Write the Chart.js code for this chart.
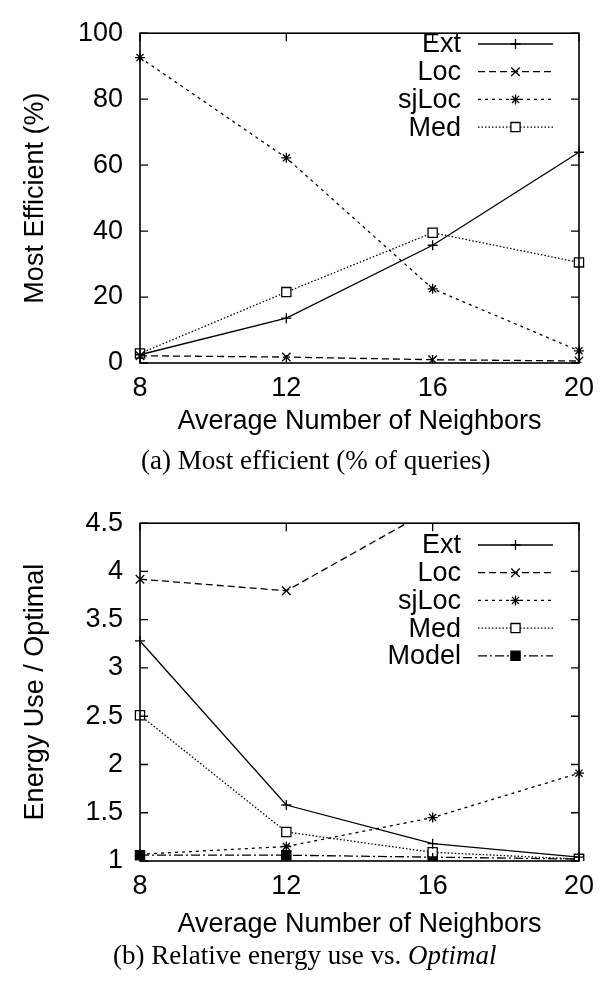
<!DOCTYPE html>
<html>
<head>
<meta charset="utf-8">
<script src="https://cdn.jsdelivr.net/npm/chart.js@4/dist/chart.umd.min.js"></script>
<style>
  body { margin: 0; background: #fff; }
  .page { position: relative; width: 603px; height: 984px; overflow: hidden; background: #fff; }
  .page canvas { position: absolute; left: 0; }
  .caption {
    position: absolute;
    font-family: "Liberation Serif", "Times New Roman", serif;
    font-size: 27px;
    line-height: 1;
    color: #000;
    white-space: nowrap;
  }
</style>
</head>
<body>
<div class="page">
  <canvas id="chartA" width="603" height="460" style="top:0"></canvas>
  <canvas id="chartB" width="603" height="494" style="top:490px"></canvas>
  <div class="caption" style="left:141px;top:447px">(a) Most efficient (% of queries)</div>
  <div class="caption" style="left:113px;top:942px">(b) Relative energy use vs. <i>Optimal</i></div>
</div>

<script>
// eixo x comum aos dois gráficos
const neighbors = ['8', '12', '16', '20'];

// (a) % de consultas em que cada estratégia foi a mais eficiente
const effExt   = [2.5, 13.6, 35.7, 63.9];
const effLoc   = [2.2, 1.8, 1.0, 0.6];
const effSjLoc = [92.6, 62.2, 22.5, 3.7];
const effMed   = [2.9, 21.5, 39.5, 30.5];

// (b) energia relativa ao Optimal (Loc sai do topo depois de 12)
const energyExt   = [3.28, 1.58, 1.18, 1.04];
const energyLoc   = [3.92, 3.80, 4.65, null];
const energySjLoc = [1.07, 1.15, 1.45, 1.91];
const energyMed   = [2.51, 1.30, 1.09, 1.02];
const energyModel = [1.06, 1.06, 1.04, 1.02];

const effTicks = [0, 20, 40, 60, 80, 100];
const energyTicks = [1, 1.5, 2, 2.5, 3, 3.5, 4, 4.5];

const SANS = '"Liberation Sans", Arial, Helvetica, sans-serif';
const FONT_SIZE = 27;

// estilos no padrão gnuplot (tudo preto, muda só o tracejado e o marcador)
const STYLES = {
  Ext:   { borderDash: [],           pointStyle: 'cross',    pointRadius: 5,   fill: '#000' },
  Loc:   { borderDash: [7, 4],       pointStyle: 'crossRot', pointRadius: 6,   fill: '#000' },
  sjLoc: { borderDash: [3, 4],       pointStyle: 'star',     pointRadius: 5,   fill: '#000' },
  Med:   { borderDash: [1.5, 2],     pointStyle: 'rect',     pointRadius: 6.5, fill: '#fff' },
  Model: { borderDash: [9, 3, 2, 3], pointStyle: 'rect',     pointRadius: 6.5, fill: '#000' }
};

function series(label, data, extra) {
  const s = STYLES[label];
  return Object.assign({
    label: label,
    data: data,
    borderColor: '#000',
    borderWidth: 1.3,
    borderDash: s.borderDash,
    pointStyle: s.pointStyle,
    pointRadius: s.pointRadius,
    pointHoverRadius: s.pointRadius,
    pointBorderColor: '#000',
    pointBackgroundColor: s.fill,
    pointBorderWidth: 1.3,
    tension: 0,
    spanGaps: false
  }, extra || {});
}

// moldura com marcas para dentro nos quatro lados
const framePlugin = {
  id: 'frame',
  afterDatasetsDraw(chart) {
    const { ctx, chartArea: a, scales: { x, y } } = chart;
    ctx.save();
    ctx.strokeStyle = '#000';
    ctx.lineWidth = 1.6;
    ctx.setLineDash([]);
    ctx.strokeRect(a.left, a.top, a.right - a.left, a.bottom - a.top);
    ctx.lineWidth = 1.3;
    ctx.beginPath();
    y.ticks.forEach(t => {
      const py = y.getPixelForValue(t.value);
      ctx.moveTo(a.left, py); ctx.lineTo(a.left + 8, py);
      ctx.moveTo(a.right, py); ctx.lineTo(a.right - 8, py);
    });
    x.ticks.forEach((t, i) => {
      const px = x.getPixelForTick(i);
      ctx.moveTo(px, a.top); ctx.lineTo(px, a.top + 8);
      ctx.moveTo(px, a.bottom); ctx.lineTo(px, a.bottom - 8);
    });
    ctx.stroke();
    ctx.restore();
  }
};

// legenda estilo gnuplot: texto alinhado à direita, amostra da linha com marcador
const keyPlugin = {
  id: 'gnuKey',
  afterDraw(chart, args, opts) {
    const ctx = chart.ctx;
    ctx.save();
    chart.data.datasets.forEach((ds, i) => {
      const y = opts.top + i * opts.step;
      ctx.fillStyle = '#000';
      ctx.font = FONT_SIZE + 'px ' + SANS;
      ctx.textAlign = 'right';
      ctx.textBaseline = 'middle';
      ctx.fillText(ds.label, opts.textRight, y + 1);

      ctx.strokeStyle = '#000';
      ctx.lineWidth = ds.borderWidth;
      ctx.setLineDash(ds.borderDash);
      ctx.beginPath();
      ctx.moveTo(opts.x0, y);
      ctx.lineTo(opts.x1, y);
      ctx.stroke();

      ctx.setLineDash([]);
      ctx.fillStyle = ds.pointBackgroundColor;
      Chart.helpers.drawPoint(ctx, {
        pointStyle: ds.pointStyle,
        radius: ds.pointRadius,
        borderWidth: ds.pointBorderWidth,
        rotation: 0
      }, (opts.x0 + opts.x1) / 2, y);
    });
    ctx.restore();
  }
};

function makeChart(id, cfg) {
  const canvas = document.getElementById(id);
  const H = canvas.height;
  return new Chart(canvas.getContext('2d'), {
    type: 'line',
    data: { labels: neighbors, datasets: cfg.datasets },
    options: {
      responsive: false,
      animation: false,
      events: [],
      layout: { padding: { top: cfg.plotTop, right: 17, left: 0, bottom: 0 } },
      plugins: {
        legend: { display: false },
        tooltip: { enabled: false },
        gnuKey: { top: cfg.keyTop, step: 27.7, textRight: 461, x0: 478, x1: 553 }
      },
      scales: {
        x: {
          type: 'category',
          offset: false,
          grid: { display: false, drawTicks: false },
          border: { display: false },
          ticks: { color: '#000', font: { family: SANS, size: FONT_SIZE }, padding: 9, maxRotation: 0, autoSkip: false },
          title: {
            display: true,
            text: 'Average Number of Neighbors',
            color: '#000',
            font: { family: SANS, size: FONT_SIZE },
            padding: { top: 0, bottom: cfg.xTitlePad }
          },
          afterFit(scale) { scale.height = H - cfg.plotBottom; }
        },
        y: {
          min: cfg.yTicks[0],
          max: cfg.yTicks[cfg.yTicks.length - 1],
          grid: { display: false, drawTicks: false },
          border: { display: false },
          afterBuildTicks(scale) { scale.ticks = cfg.yTicks.map(v => ({ value: v })); },
          ticks: {
            color: '#000',
            font: { family: SANS, size: FONT_SIZE },
            padding: 17,
            callback: v => String(v)
          },
          title: {
            display: true,
            text: cfg.yTitle,
            color: '#000',
            font: { family: SANS, size: FONT_SIZE },
            padding: { top: 19, bottom: 0 }
          },
          afterFit(scale) { scale.width = 140; }
        }
      }
    },
    plugins: [framePlugin, keyPlugin]
  });
}

makeChart('chartA', {
  datasets: [
    series('Ext', effExt),
    series('Loc', effLoc),
    series('sjLoc', effSjLoc),
    series('Med', effMed)
  ],
  yTicks: effTicks,
  yTitle: 'Most Efficient (%)',
  plotTop: 21,
  plotBottom: 363,
  xTitlePad: 22,
  keyTop: 44
});

makeChart('chartB', {
  datasets: [
    series('Ext', energyExt),
    series('Loc', energyLoc, { clip: { left: 8, top: 0, right: 8, bottom: 8 } }),
    series('sjLoc', energySjLoc),
    series('Med', energyMed),
    series('Model', energyModel)
  ],
  yTicks: energyTicks,
  yTitle: 'Energy Use / Optimal',
  plotTop: 32,
  plotBottom: 371,
  xTitlePad: 43,
  keyTop: 55
});
</script>
</body>
</html>
